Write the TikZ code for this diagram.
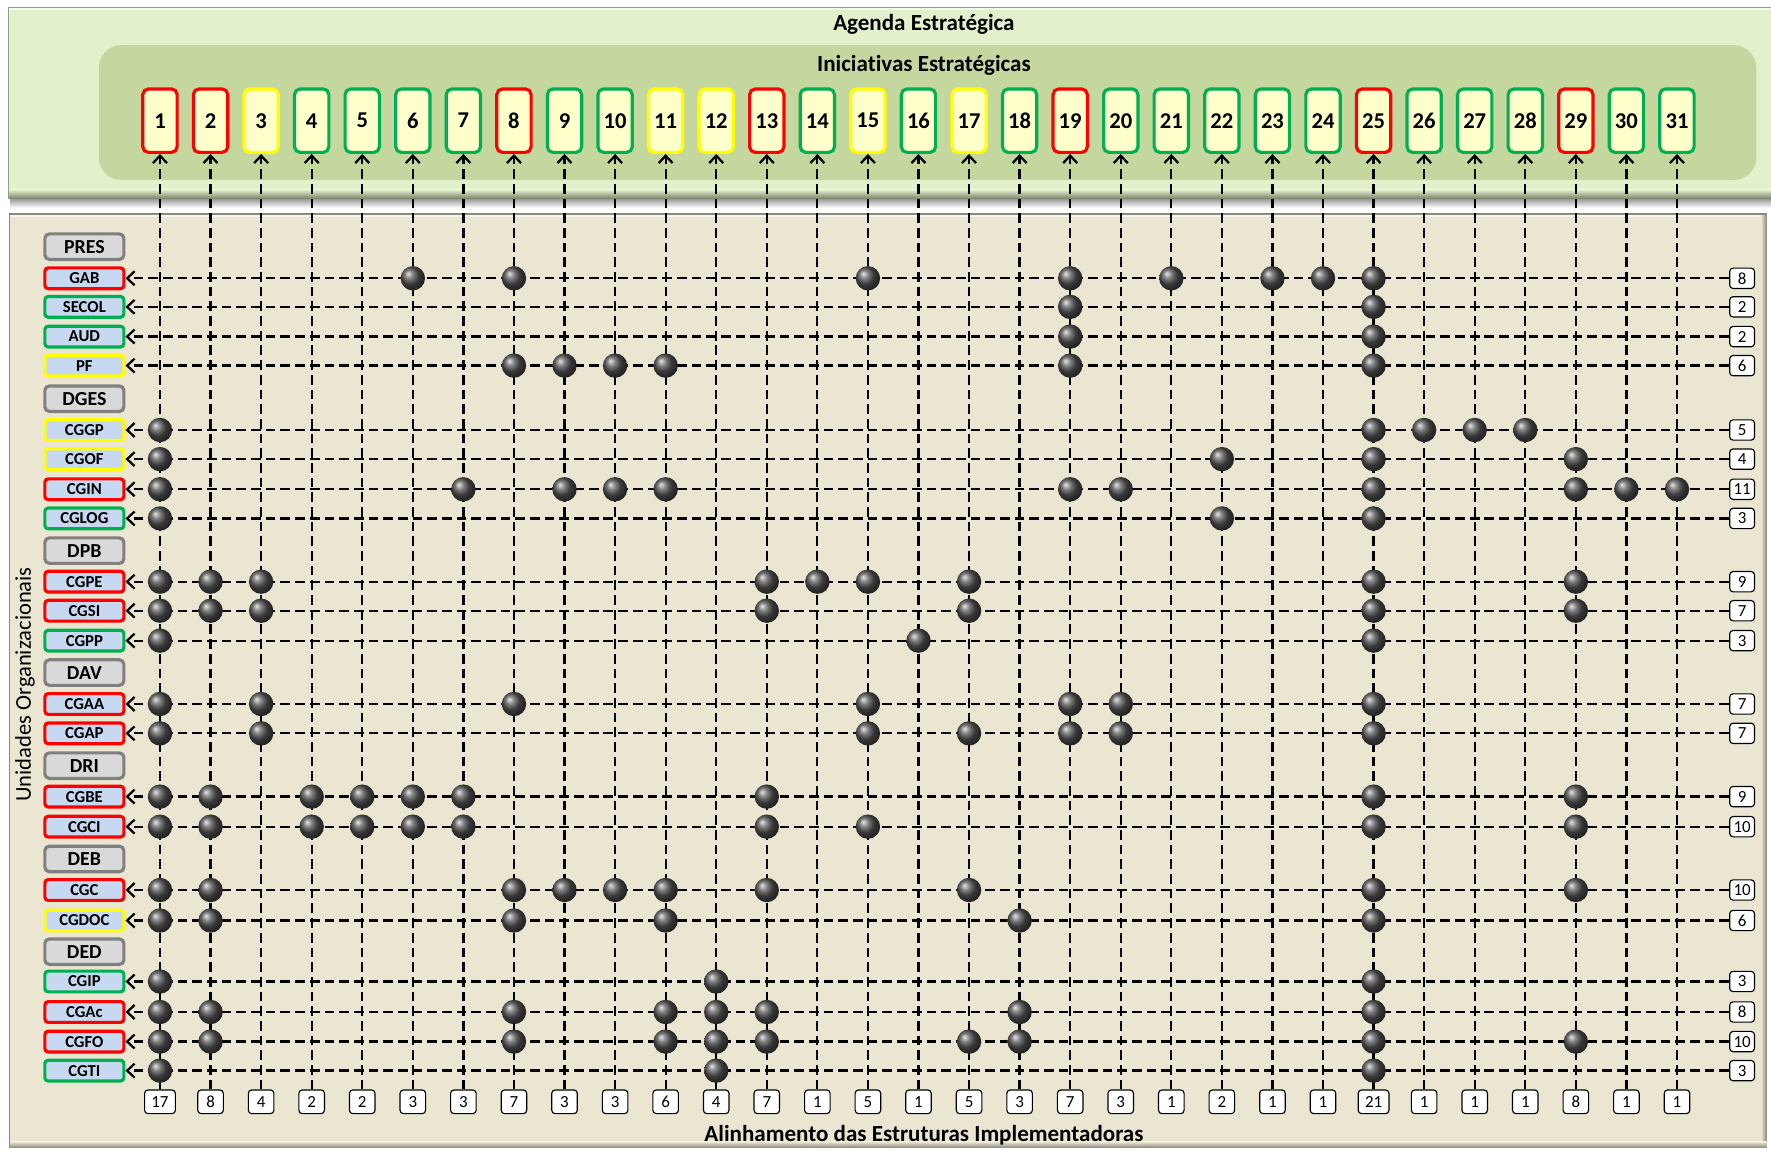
\documentclass[tikz,border=0pt]{standalone}
\usepackage{fontspec}
\setmainfont{Carlito}[Ligatures=NoCommon]
\usetikzlibrary{arrows.meta,shadings}
\definecolor{rd}{HTML}{FF0000}
\definecolor{yl}{HTML}{FFFF00}
\definecolor{gr}{HTML}{00B050}
\definecolor{topgreen}{HTML}{E3F0CC}
\definecolor{innergreen}{HTML}{C4D79E}
\definecolor{beige}{HTML}{EBE6D2}
\definecolor{boxfill}{HTML}{FFFFCC}
\definecolor{unitfill}{HTML}{C6D9F1}
\definecolor{headfill}{HTML}{D9D9D9}
\definecolor{headdraw}{HTML}{808080}
\tikzset{
 initbox/.style={draw=#1, line width=1.4pt, fill=boxfill, rounded corners=2.5pt, minimum width=15.2pt, minimum height=28.1pt, inner sep=0pt, font=\fontsize{10}{12}\selectfont\bfseries},
 unitbox/.style={draw=#1, line width=1.4pt, fill=unitfill, rounded corners=1.5pt, minimum width=35pt, minimum height=9.2pt, inner sep=0pt, font=\fontsize{7.4}{8}\selectfont\bfseries},
 headbox/.style={draw=headdraw, line width=1.4pt, fill=headfill, rounded corners=2pt, minimum width=35pt, minimum height=11.3pt, inner sep=0pt, font=\fontsize{8.8}{10}\selectfont\bfseries},
 countbox/.style={draw=black, line width=0.5pt, fill=white, rounded corners=1.5pt, minimum width=11.3pt, minimum height=10.5pt, inner xsep=3pt, inner ysep=0pt, font=\fontsize{7.5}{9}\selectfont},
 rcountbox/.style={draw=black, line width=0.5pt, fill=white, rounded corners=1.5pt, minimum width=11pt, minimum height=9pt, inner xsep=0.5pt, inner ysep=0pt, font=\fontsize{7.5}{9}\selectfont},
 conn/.style={line width=1pt, dash pattern=on 4.3pt off 2.2pt, -{Straight Barb[length=3.3pt,width=6.2pt,line width=1pt]}},
 ballnode/.style={circle, inner sep=0pt, minimum size=10.8pt, shading=ball, ball color=black!68},
 titlefont/.style={font=\fontsize{10.2}{12}\selectfont\bfseries},
}
\def\rows{GAB/246.4/rd/{6,8,15,19,21,23,24,25}/8,
SECOL/271.7/gr/{19,25}/2,
AUD/298/gr/{19,25}/2,
PF/323.7/yl/{8,9,10,11,19,25}/6,
CGGP/380.7/yl/{1,25,26,27,28}/5,
CGOF/406.5/yl/{1,22,25,29}/4,
CGIN/433.2/rd/{1,7,9,10,11,19,20,25,29,30,31}/11,
CGLOG/459/gr/{1,22,25}/3,
CGPE/515/rd/{1,2,3,13,14,15,17,25,29}/9,
CGSI/540.7/rd/{1,2,3,13,17,25,29}/7,
CGPP/567.2/gr/{1,16,25}/3,
CGAA/623.3/rd/{1,3,8,15,19,20,25}/7,
CGAP/649.3/rd/{1,3,15,17,19,20,25}/7,
CGBE/705.3/rd/{1,2,4,5,6,7,13,25,29}/9,
CGCI/731.9/rd/{1,2,4,5,6,7,13,15,25,29}/10,
CGC/788/rd/{1,2,8,9,10,11,13,17,25,29}/10,
CGDOC/815/yl/{1,2,8,11,18,25}/6,
CGIP/869/gr/{1,12,25}/3,
CGAc/896/rd/{1,2,8,11,12,13,18,25}/8,
CGFO/922.2/rd/{1,2,8,11,12,13,17,18,25,29}/10,
CGTI/947.9/gr/{1,12,25}/3}
\begin{document}
\begin{tikzpicture}[x=0.5pt,y=-0.5pt]
\useasboundingbox (0,0) rectangle (1568,1020);
\fill[white] (0,0) rectangle (1568,1020);
% top panel
\shade[top color=black!45, bottom color=white] (9,175) rectangle (1568,184);
\fill[topgreen] (7.5,6.5) rectangle (1568,175.6);
\fill[white!55!topgreen] (7.5,6.5) rectangle (1568,9);
\shade[top color=topgreen, bottom color=topgreen!55!black] (7.5,168) rectangle (1568,175.6);
\draw[topgreen!65!black, line width=0.5pt] (7.5,175.6) -- (7.5,6.5) -- (1568,6.5);
\fill[innergreen, rounded corners=10pt] (87.5,40) rectangle (1555,159.4);
% lower panel
\fill[beige] (8.5,189.5) rectangle (1564,1016);
\fill[white!60!beige] (8.5,189.5) rectangle (1564,192);
\shade[left color=beige, right color=beige!60!black] (1559,189.5) rectangle (1564,1016);
\shade[top color=beige, bottom color=beige!60!black] (8.5,1011) rectangle (1564,1016);
\draw[beige!60!black, line width=0.5pt] (8.5,1016) -- (8.5,189.5) -- (1564,189.5);
% titles
\node[titlefont] (t1) at (818,22) {Agenda Estratégica};
\node[titlefont] (t2) at (818,58) {Iniciativas Estratégicas};
\node[titlefont] (t3) at (818,1005) {Alinhamento das Estruturas Implementadoras};
\node[rotate=90, font=\fontsize{10}{12}\selectfont] (t4) at (22,606) {Unidades Organizacionais};
% column boxes and counts
\foreach \i/\col/\k in {1/rd/17,2/rd/8,3/yl/4,4/gr/2,5/gr/2,6/gr/3,7/gr/3,8/rd/7,9/gr/3,10/gr/3,11/yl/6,12/yl/4,13/rd/7,14/gr/1,15/yl/5,16/gr/1,17/yl/5,18/gr/3,19/rd/7,20/gr/3,21/gr/1,22/gr/2,23/gr/1,24/gr/1,25/rd/21,26/gr/1,27/gr/1,28/gr/1,29/rd/8,30/gr/1,31/gr/1}{
 \pgfmathsetmacro\xx{141.65+(\i-1)*44.77}
 \node[initbox=\col] (c\i) at (\xx,106.85) {\i};
 \node[countbox] (cc\i) at (\xx,975.5) {\k};
}
% headers
\foreach \n/\y in {PRES/218.4,DGES/353,DPB/487.5,DAV/595.5,DRI/677.9,DEB/760.5,DED/842.6}{
 \node[headbox] (h-\n) at (74.7,\y) {\n};
}
% units and row counts
\foreach \n/\y/\col/\bl/\k in \rows {
 \node[unitbox=\col] (u-\n) at (74.7,\y) {\n};
 \node[rcountbox] (rc-\n) at (1542.4,\y) {\k};
}
% vertical connectors
\foreach \i in {1,...,31}{
 \draw[conn] (cc\i.north) -- (c\i.south);
}
% horizontal connectors
\foreach \n/\y/\col/\bl/\k in \rows {
 \draw[conn] (rc-\n.west) -- (u-\n.east);
}
% balls
\foreach \n/\y/\col/\bl/\k in \rows {
 \foreach \j in \bl {
  \node[ballnode] (b-\n-\j) at (c\j |- u-\n) {};
 }
}
\end{tikzpicture}
\end{document}
